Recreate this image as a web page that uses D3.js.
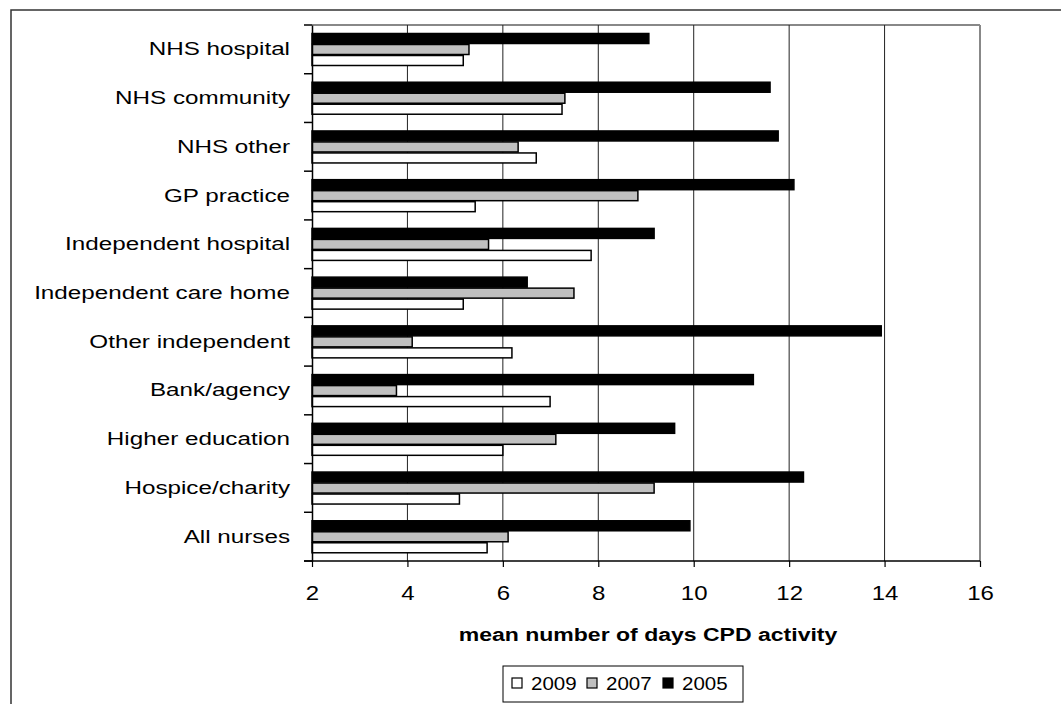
<!DOCTYPE html>
<html><head><meta charset="utf-8">
<script src="https://cdn.jsdelivr.net/npm/d3@7"></script>
<style>
html,body{margin:0;padding:0;background:#fff;}
svg{display:block;font-family:"Liberation Sans",Arial,sans-serif;}
</style></head>
<body>
<svg id="chart" width="1061" height="704"></svg>
<script>
const categories = ["NHS hospital","NHS community","NHS other","GP practice","Independent hospital","Independent care home","Other independent","Bank/agency","Higher education","Hospice/charity","All nurses"];
const v2009 = [5.17,7.24,6.70,5.42,7.85,5.17,6.19,6.99,6.00,5.09,5.67];
const v2007 = [5.29,7.30,6.32,8.83,5.70,7.49,4.10,3.77,7.11,9.17,6.11];
const v2005 = [9.06,11.60,11.77,12.10,9.17,6.51,13.93,11.25,9.60,12.30,9.92];
const xTicks = [2,4,6,8,10,12,14,16];
const seriesNames = ["2009","2007","2005"];
const seriesFills = {"2009":"#ffffff","2007":"#c0c0c0","2005":"#000000"};
const xTitle = "mean number of days CPD activity";

const svg = d3.select("#chart");
const L = 312, R = 980, T = 25, B = 561;
const x = d3.scaleLinear().domain([2,16]).range([L,R]);
const y = d3.scaleBand().domain(categories).range([T,B]);

// outer frame
svg.append("rect").attr("x",11).attr("y",10).attr("width",1100).attr("height",800)
  .attr("fill","none").attr("stroke","#333").attr("stroke-width",1.5);

// plot border top/right gray
svg.append("line").attr("x1",L).attr("x2",R).attr("y1",T).attr("y2",T).attr("stroke","#888").attr("stroke-width",2);
svg.append("line").attr("x1",R).attr("x2",R).attr("y1",T).attr("y2",B).attr("stroke","#888").attr("stroke-width",2);

// gridlines
svg.append("g").selectAll("line").data(xTicks.filter(d=>d>2 && d<16)).join("line")
  .attr("x1",d=>x(d)).attr("x2",d=>x(d)).attr("y1",T).attr("y2",B)
  .attr("stroke","#222").attr("stroke-width",1);

// bars
const series = [
  {name:"2005", vals:v2005},
  {name:"2007", vals:v2007},
  {name:"2009", vals:v2009}
];
const bh = 11, off = 8.5;
series.forEach((s,i)=>{
  svg.append("g").selectAll("rect").data(categories).join("rect")
    .attr("x",x(2))
    .attr("y",(c)=>y(c)+off+i*bh)
    .attr("width",(c,j)=>x(s.vals[j])-x(2))
    .attr("height",bh-1)
    .attr("fill",seriesFills[s.name])
    .attr("stroke","#000").attr("stroke-width",1.5);
});

// left axis
const yAxis = svg.append("g").attr("transform",`translate(${L},0)`)
  .call(d3.axisLeft(y).tickSize(0).tickPadding(0));
yAxis.select(".domain").attr("stroke","#000").attr("stroke-width",1.5);
const sxCat = 1.31;
yAxis.selectAll(".tick text")
  .attr("font-size","18.5px").attr("fill","#000")
  .attr("font-family","Liberation Sans, Arial, sans-serif")
  .attr("x",-22/sxCat).attr("dy",null).attr("y",6)
  .attr("transform",`scale(${sxCat},1)`);
// boundary ticks
const bounds = categories.map(c=>y(c)).concat([B]);
svg.append("g").selectAll("line").data(bounds).join("line")
  .attr("x1",L-8).attr("x2",L).attr("y1",d=>d).attr("y2",d=>d)
  .attr("stroke","#000").attr("stroke-width",1.5);

// bottom axis
const xAxis = svg.append("g").attr("transform",`translate(0,${B})`)
  .call(d3.axisBottom(x).tickValues(xTicks).tickSize(6).tickPadding(0).tickFormat(d3.format("d")));
xAxis.select(".domain").attr("stroke","#000").attr("stroke-width",1.5).attr("d",`M${L-8},0H${R}`);
xAxis.selectAll(".tick line").attr("stroke","#000").attr("stroke-width",1.2);
xAxis.selectAll(".tick text")
  .attr("font-size","20px").attr("fill","#000")
  .attr("font-family","Liberation Sans, Arial, sans-serif")
  .attr("y",39).attr("dy",null)
  .attr("transform","scale(1.2,1)");

// axis title
svg.append("text")
  .attr("transform",`translate(${(458+838)/2},641) scale(1.28,1)`)
  .attr("text-anchor","middle").attr("font-size","18px").attr("font-weight","bold")
  .attr("fill","#000").text(xTitle);

// legend
const lg = svg.append("g");
lg.append("rect").attr("x",503).attr("y",666).attr("width",240).attr("height",36)
  .attr("fill","#fff").attr("stroke","#000").attr("stroke-width",1);
const legX = [512,587,663];
seriesNames.forEach((n,i)=>{
  lg.append("rect").attr("x",legX[i]).attr("y",678).attr("width",10).attr("height",10)
    .attr("fill",seriesFills[n]).attr("stroke","#000").attr("stroke-width",1.2);
  lg.append("text").attr("transform",`translate(${legX[i]+19},690) scale(1.08,1)`)
    .attr("font-size","19px").attr("fill","#000").text(n);
});
</script>
</body></html>
